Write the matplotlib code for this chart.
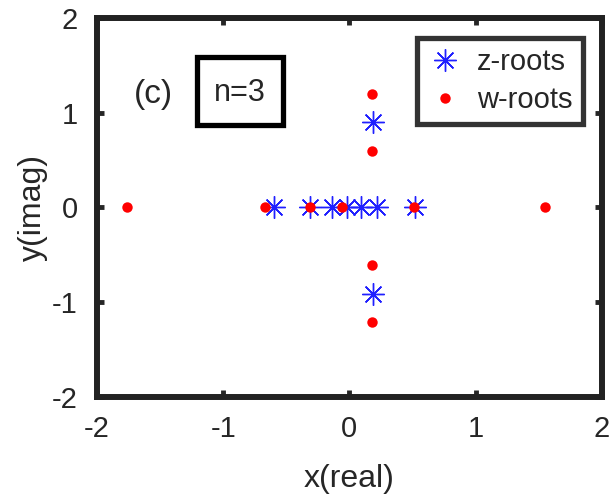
import numpy as np
import matplotlib.pyplot as plt
from matplotlib.patches import Rectangle

# roots
z_re = [-0.60, -0.31, -0.14, -0.02, 0.09, 0.22, 0.52, 0.19, 0.19]
z_im = [0.0, 0.0, 0.0, 0.0, 0.0, 0.0, 0.0, 0.90, -0.91]
w_re = [-1.76, -0.67, -0.31, -0.06, 0.51, 1.55, 0.18, 0.18, 0.18, 0.18]
w_im = [0.0, 0.0, 0.0, 0.0, 0.0, 0.0, 1.20, 0.60, -0.61, -1.21]
ticks = [-2, -1, 0, 1, 2]

plt.rcParams['font.family'] = ['Liberation Sans', 'DejaVu Sans']
plt.rcParams['axes.unicode_minus'] = False
txt = '#262626'

fig = plt.figure(figsize=(6.16, 4.98), dpi=100)
ax = fig.add_axes([0.1575, 0.203, 0.8195, 0.761])

ax.plot(z_re, z_im, linestyle='none', marker=(8, 2, 0), ms=16, mew=1.0,
        color='#2020ff', label='z-roots', zorder=3)
ax.plot(w_re, w_im, linestyle='none', marker='o', ms=7.5, mew=0,
        color='#ff0000', label='w-roots', zorder=4)

ax.set_xlim(-2, 2)
ax.set_ylim(-2, 2)
ax.set_xticks(ticks)
ax.set_yticks(ticks)
ax.tick_params(direction='in', length=5, width=3.5, top=True, right=True,
               labelsize=21, colors=txt)
ax.tick_params(axis='x', pad=13)
ax.tick_params(axis='y', pad=14)
for s in ax.spines.values():
    s.set_linewidth(4.3)
    s.set_color('#222222')

ax.set_xlabel('x(real)', fontsize=23, color=txt, labelpad=15)
ax.set_ylabel('y(imag)', fontsize=23, color=txt, labelpad=3)

ax.text(-1.71, 1.19, '(c)', fontsize=24, color=txt, va='center', ha='left')
ax.add_patch(Rectangle((-1.21, 0.87), 0.68, 0.72, fill=False, lw=3.8,
                       ec='black', zorder=5))
ax.text(-0.87, 1.21, 'n=3', fontsize=22, color=txt, va='center', ha='center')

leg = ax.legend(loc='upper right', bbox_to_anchor=(0.962, 0.948), fontsize=21,
                frameon=True, fancybox=False, handlelength=1.2,
                handletextpad=0.5, borderpad=0.35, labelspacing=0.35,
                borderaxespad=0)
leg.get_frame().set_linewidth(3.8)
leg.get_frame().set_edgecolor('black')
for t in leg.get_texts():
    t.set_color(txt)

fig.savefig('out.png', dpi=100)
